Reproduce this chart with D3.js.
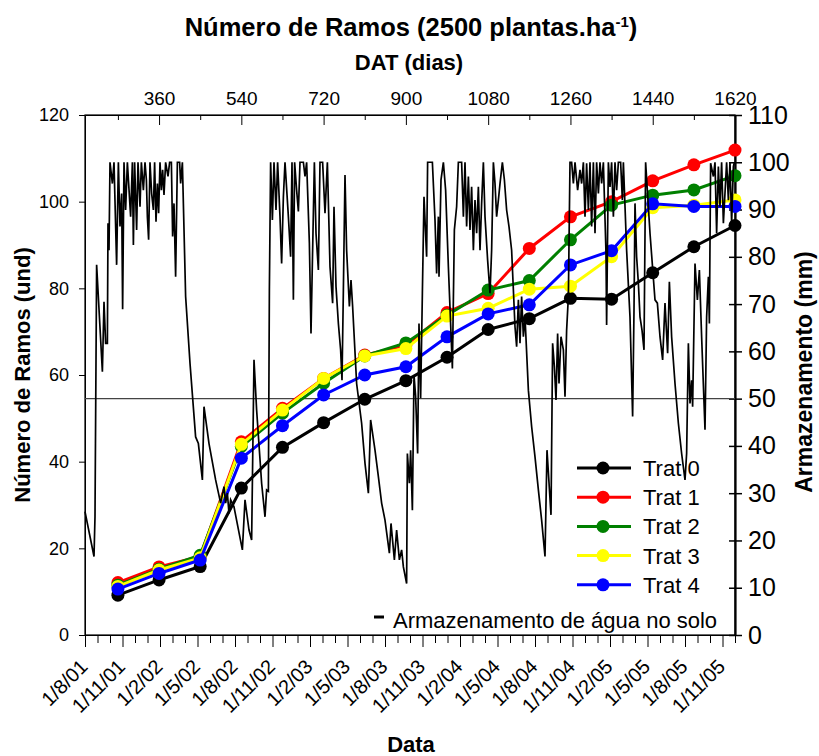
<!DOCTYPE html>
<html><head><meta charset="utf-8">
<script src="https://cdn.jsdelivr.net/npm/d3@7"></script>
<style>
body{margin:0;background:#fff}
text{font-family:"Liberation Sans",Arial,sans-serif;fill:#000}
</style></head>
<body><svg id="c" width="819" height="756"></svg>
<script>
// ---- data ----
const datDays = [270,360,450,540,630,720,810,900,990,1080,1170,1260,1350,1440,1530,1620];
const trat0 = [9.2,12.7,15.8,33.9,43.3,49.0,54.4,58.7,64.1,70.5,73.0,77.7,77.5,83.6,89.6,94.5];
const trat1 = [12.1,15.7,18.1,44.6,52.3,59.2,64.6,66.9,74.4,78.8,89.2,96.5,100.0,104.8,108.5,111.9];
const trat2 = [11.5,15.2,18.4,43.5,51.2,58.1,64.4,67.4,73.8,79.6,81.8,91.2,99.2,101.5,102.7,106.0];
const trat3 = [11.2,15.0,17.8,44.0,51.9,59.2,64.4,66.1,73.6,75.4,79.8,80.5,87.3,98.6,99.2,100.4];
const trat4 = [10.6,14.2,17.3,40.8,48.3,55.4,60.0,61.9,68.8,74.1,76.2,85.4,88.7,99.5,98.9,98.9];
const seriesNames = ["Trat 0","Trat 1","Trat 2","Trat 3","Trat 4"];
const seriesColors = ["#000000","#ff0000","#008000","#ffff00","#0000ff"];

// water storage (months since 1/8/01, mm)
const waterMonth = [0,0.72,0.80,0.93,1.39,1.52,1.65,1.79,1.84,1.92,2.00,2.19,2.32,2.53,2.67,2.80,2.93,3.01,3.12,3.25,3.39,3.65,3.79,3.87,3.97,4.13,4.24,4.40,4.51,4.67,4.80,4.91,4.99,5.09,5.20,5.33,5.47,5.57,5.68,5.79,5.89,6.00,6.11,6.21,6.32,6.45,6.64,6.77,6.91,7.01,7.12,7.25,7.39,7.57,7.65,7.79,8.05,8.40,8.85,9.07,9.39,9.52,9.92,10.45,10.85,11.12,11.25,11.39,11.52,11.65,11.92,12.59,12.80,13.12,13.33,13.52,13.73,14.13,14.40,14.53,14.67,14.75,14.85,14.99,15.12,15.28,15.41,15.60,15.73,15.87,16.00,16.27,16.45,16.56,16.67,16.77,16.93,17.07,17.20,17.47,17.60,17.73,17.95,18.08,18.21,18.35,18.48,18.67,18.80,19.01,19.20,19.39,19.60,19.81,19.92,20.08,20.27,20.45,20.56,20.67,20.80,20.93,21.15,21.28,21.41,21.73,22.13,22.40,22.67,22.85,23.20,23.47,23.73,24.00,24.35,24.48,24.75,24.93,25.15,25.33,25.47,25.73,25.79,25.95,26.05,26.19,26.32,26.45,26.61,26.72,26.85,26.99,27.12,27.33,27.41,27.79,28.00,28.13,28.27,28.32,28.48,28.67,28.85,29.07,29.39,29.55,29.73,29.87,30.13,30.27,30.40,30.53,30.67,30.80,30.93,31.07,31.20,31.33,31.47,31.60,31.73,31.87,32.00,32.21,32.40,32.53,32.67,32.80,32.93,33.07,33.20,33.39,33.55,33.73,33.92,34.13,34.40,34.53,34.67,34.80,34.93,35.07,35.20,35.47,35.73,36.00,36.27,36.53,36.80,36.96,37.28,37.41,37.55,37.68,37.81,37.92,38.08,38.27,38.40,38.53,38.67,38.80,38.93,39.07,39.20,39.41,39.60,39.73,39.87,40.00,40.13,40.27,40.40,40.53,40.67,40.80,40.93,41.07,41.20,41.33,41.47,41.68,41.73,41.87,42.00,42.13,42.27,42.40,42.53,42.67,42.85,42.99,43.07,43.33,43.60,43.81,43.92,44.00,44.13,44.27,44.40,44.56,44.72,44.85,45.20,45.60,45.79,46.00,46.21,46.40,46.61,46.75,46.93,47.20,47.47,47.73,48.00,48.13,48.27,48.40,48.53,48.61,48.80,48.99,49.15,49.33,49.60,49.73,49.87,49.95,50.05,50.27,50.40,50.53,50.67,50.80,50.93,51.07,51.33,51.47,51.60,51.73,51.87,51.95];
const waterMm = [26.1,16.6,25.0,78.3,55.7,70.5,61.7,61.7,87.1,81.4,100,95.5,100,78.3,100,86.4,93.4,68.9,100,89.9,100,88.5,100,82.5,100,85.7,100,90.6,100,94.1,100,96.3,88.5,83.6,100,93.4,89.9,100,87.4,95.5,89.2,100,94.1,98.4,93.1,100,97.0,100,100,84.3,91.3,75.8,100,100,95.5,100,71.6,57.5,41.9,40.5,32.8,48.3,40.5,32.8,27.9,31.4,27.9,30.0,25.7,28.6,27.1,18.0,28.6,22.2,20.1,58.2,47.6,32.1,25.0,30.7,30.4,73.0,100,87.8,100,89.9,100,88.5,78.6,92.7,100,88.5,80.0,100,70.9,100,94.1,89.6,100,100,97.0,100,82.9,63.8,81.4,100,85.0,77.2,100,100,89.2,100,77.9,70.2,90.6,73.7,65.9,60.3,53.9,73.0,97.3,81.4,69.5,75.1,69.5,53.2,44.8,36.3,30.0,45.5,39.1,33.5,27.9,24.3,17.3,23.6,15.9,22.2,15.9,18.0,14.4,10.9,38.4,32.1,39.1,26.4,55.0,50.5,38.4,65.9,50.1,72.3,92.7,80.0,100,100,87.8,76.5,88.5,75.8,96.3,100,94.1,77.9,56.4,85.7,90.6,100,100,88.5,100,86.4,97.0,85.7,94.8,81.4,92.0,85.0,94.8,81.4,91.3,100,88.5,79.3,72.3,81.4,100,95.5,88.5,92.0,95.5,100,96.3,89.9,86.4,81.4,65.2,61.0,70.9,61.7,71.6,63.1,67.3,51.8,44.1,37.7,30.7,24.3,16.6,39.1,25.4,61.7,56.8,49.7,63.8,53.2,63.1,60.3,50.4,64.5,71.6,100,100,95.5,100,94.1,98.4,95.5,100,88.5,99.8,89.9,100,86.4,100,85.0,100,93.4,100,95.5,100,80.7,65.6,100,94.8,100,88.5,100,94.1,100,100,92.0,100,81.4,67.3,46.2,68.7,91.3,80.0,74.4,67.3,64.5,60.3,100,85.0,70.9,70.2,63.1,58.2,70.2,59.6,74.7,63.1,53.2,44.8,38.4,32.8,38.4,61.7,49.0,53.9,48.3,78.6,70.9,77.2,63.1,43.4,67.3,75.8,65.9,99.8,97.0,100,85.0,99.1,90.6,100,87.1,100,92.0,100,87.1,99.1,100];

const leftTicks = [0,20,40,60,80,100,120];
const rightTicks = [0,10,20,30,40,50,60,70,80,90,100,110];
const topTicks = [270,360,450,540,630,720,810,900,990,1080,1170,1260,1350,1440,1530,1620];
const topLabels = [360,540,720,900,1080,1260,1440,1620];
const dateLabels = ["1/8/01","1/11/01","1/2/02","1/5/02","1/8/02","1/11/02","1/2/03","1/5/03","1/8/03","1/11/03","1/2/04","1/5/04","1/8/04","1/11/04","1/2/05","1/5/05","1/8/05","1/11/05"];
const refLine = 50;

// ---- layout ----
const L = 85, R = 735, T = 115, B = 635;
const svg = d3.select("#c");
const xDat = d3.scaleLinear().domain([198,1620]).range([L,R]);
const xMonth = d3.scaleLinear().domain([0,52]).range([L,R]);
const yL = d3.scaleLinear().domain([0,120]).range([B,T]);
const yR = d3.scaleLinear().domain([0,110]).range([B,T]);

// titles
const title = svg.append("text").attr("x",411).attr("y",36).attr("text-anchor","middle")
  .style("font-size","25.5px").style("font-weight","bold");
title.append("tspan").text("Número de Ramos (2500 plantas.ha");
title.append("tspan").attr("dy",-9).style("font-size","15px").text("-1");
title.append("tspan").attr("dy",9).text(")");
svg.append("text").attr("x",409).attr("y",70).attr("text-anchor","middle")
  .style("font-size","22px").style("font-weight","bold").text("DAT (dias)");
svg.append("text").attr("x",411).attr("y",752).attr("text-anchor","middle")
  .style("font-size","22px").style("font-weight","bold").text("Data");
svg.append("text").attr("transform","translate(30,375) rotate(-90)").attr("text-anchor","middle")
  .style("font-size","22px").style("font-weight","bold").text("Número de Ramos (und)");
svg.append("text").attr("transform","translate(812,372) rotate(-90)").attr("text-anchor","middle")
  .style("font-size","23px").style("font-weight","bold").text("Armazenamento (mm)");

// frame
svg.append("rect").attr("x",L).attr("y",T).attr("width",R-L).attr("height",B-T)
  .attr("fill","none").attr("stroke","#000").attr("stroke-width",1.2);

// left axis
const gl = svg.append("g").attr("transform",`translate(${L},0)`)
  .call(d3.axisLeft(yL).tickValues(leftTicks).tickSize(6).tickSizeOuter(0).tickPadding(10));
gl.selectAll("text").style("font-size","18px");

// right axis
const gr = svg.append("g").attr("transform",`translate(${R},0)`)
  .call(d3.axisRight(yR).tickValues(rightTicks).tickSize(7).tickSizeOuter(0).tickPadding(6));
gr.selectAll(".tick line").attr("x1",-6).attr("stroke-width",1.5);
gr.select(".domain").attr("stroke-width",2.2);
gr.selectAll("text").style("font-size","25px");

// top axis
const gt = svg.append("g").attr("transform",`translate(0,${T})`)
  .call(d3.axisTop(xDat).tickValues(topTicks).tickSize(-10).tickSizeOuter(0).tickPadding(10)
    .tickFormat(d => topLabels.includes(d) ? d : ""));
gt.selectAll(".tick line").attr("y2", d => topLabels.includes(d) ? 10 : 5);
gt.selectAll("text").style("font-size","19px");

// bottom axis
const monthTicks = d3.range(0,53);
const gb = svg.append("g").attr("transform",`translate(0,${B})`)
  .call(d3.axisBottom(xMonth).tickValues(monthTicks).tickSize(12).tickSizeOuter(0).tickFormat(""));
gb.selectAll(".tick line").attr("y2", d => d % 3 === 0 ? 12 : 8);
svg.append("g").selectAll("text").data(dateLabels).join("text")
  .attr("transform",(d,i)=>`translate(${xMonth(i*3)-1},${663}) rotate(-45)`)
  .attr("text-anchor","end").attr("dy","0.35em").style("font-size","20px").text(d=>d);

// reference line at 50 mm
svg.append("line").attr("x1",L).attr("x2",R).attr("y1",yR(refLine)).attr("y2",yR(refLine))
  .attr("stroke","#444").attr("stroke-width",1.2);

// treatments
const allSeries = [trat0,trat1,trat2,trat3,trat4];
const line = d3.line().x((d,i)=>xDat(datDays[i])).y(d=>yL(d));
allSeries.forEach((s,k)=>{
  const g = svg.append("g");
  g.append("path").datum(s).attr("d",line).attr("fill","none")
    .attr("stroke",seriesColors[k]).attr("stroke-width",3);
  g.selectAll("circle").data(s).join("circle")
    .attr("cx",(d,i)=>xDat(datDays[i])).attr("cy",d=>yL(d)).attr("r",6.5)
    .attr("fill",seriesColors[k]);
});

// water storage
const wline = d3.line().x((d,i)=>xMonth(waterMonth[i])).y(d=>yR(d));
svg.append("path").datum(waterMm).attr("d",wline).attr("fill","none")
  .attr("stroke","#000").attr("stroke-width",1.7).attr("stroke-linejoin","miter");

// legend
const lg = svg.append("g");
seriesNames.forEach((n,k)=>{
  const y = 468 + k*29.2;
  lg.append("line").attr("x1",577).attr("x2",631).attr("y1",y).attr("y2",y)
    .attr("stroke",seriesColors[k]).attr("stroke-width",3);
  lg.append("circle").attr("cx",603).attr("cy",y).attr("r",6.5).attr("fill",seriesColors[k]);
  lg.append("text").attr("x",643).attr("y",y+8).style("font-size","22px").text(n);
});
lg.append("line").attr("x1",374).attr("x2",384).attr("y1",617).attr("y2",617)
  .attr("stroke","#000").attr("stroke-width",3);
lg.append("text").attr("x",393).attr("y",628).style("font-size","22px").text("Armazenamento de água no solo");
</script></body></html>
